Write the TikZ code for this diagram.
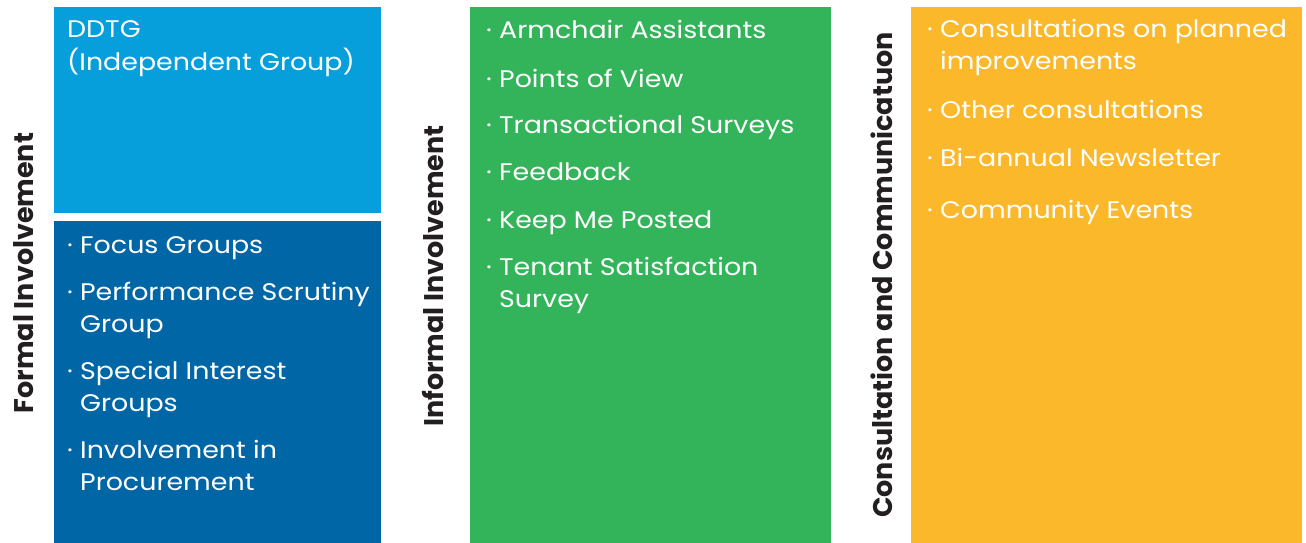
\documentclass[tikz,border=0pt]{standalone}
\usepackage{fontspec}
\setmainfont{Poppins}
\newfontfamily\bodyfont[FakeStretch=1.12]{Poppins}
\definecolor{lblue}{HTML}{069FDB}
\definecolor{dblue}{HTML}{0066A6}
\definecolor{cgreen}{HTML}{34B45A}
\definecolor{cyellow}{HTML}{FBB82A}
\definecolor{labelc}{HTML}{231F20}
\newcommand\itemtext[1]{\makebox[13pt][l]{·}\begin{tabular}[t]{@{}l@{}}#1\end{tabular}}
\begin{document}
\begin{tikzpicture}[x=1pt,y=-1pt,
  panel/.style={draw=none,inner sep=0pt,outer sep=0pt,anchor=north west},
  itm/.style={anchor=base west,inner sep=0pt,text=white,font=\bodyfont\fontsize{24}{32}\selectfont},
  side/.style={anchor=base,rotate=90,inner sep=0pt,text=labelc,font=\fontsize{27}{30}\selectfont\bfseries}]
\useasboundingbox (0,0) rectangle (1306,543);
% panels
\node[panel,fill=lblue,minimum width=327pt,minimum height=206pt] (ddtg) at (54,7) {};
\node[panel,fill=dblue,minimum width=327pt,minimum height=322pt] (formal) at (54,221) {};
\node[panel,fill=cgreen,minimum width=361pt,minimum height=536pt] (informal) at (470,7) {};
\node[panel,fill=cyellow,minimum width=391pt,minimum height=536pt] (consult) at (911,7) {};
% side labels
\node[side] (lf) at (33,273) {Formal Involvement};
\node[side] (li) at (443,276) {Informal Involvement};
\node[side] (lc) at (892,275) {Consultation and Communicatuon};
% DDTG
\node[itm] (t0) at (67,38) {\begin{tabular}[t]{@{}l@{}}DDTG\\(Independent Group)\end{tabular}};
% formal
\node[itm] (f1) at (67,253) {\itemtext{Focus Groups}};
\node[itm] (f2) at (67,300) {\itemtext{Performance Scrutiny\\Group}};
\node[itm] (f3) at (67,379) {\itemtext{Special Interest\\Groups}};
\node[itm] (f4) at (67,458) {\itemtext{Involvement in\\Procurement}};
% informal
\node[itm] (i1) at (486,39) {\itemtext{Armchair Assistants}};
\node[itm] (i2) at (486,87) {\itemtext{Points of View}};
\node[itm] (i3) at (486,133) {\itemtext{Transactional Surveys}};
\node[itm] (i4) at (486,180) {\itemtext{Feedback}};
\node[itm] (i5) at (486,228) {\itemtext{Keep Me Posted}};
\node[itm] (i6) at (486,275) {\itemtext{Tenant Satisfaction\\Survey}};
% consultation
\node[itm] (c1) at (927,38) {\itemtext{Consultations on planned\\improvements}};
\node[itm] (c2) at (927,118) {\itemtext{Other consultations}};
\node[itm] (c3) at (927,166) {\itemtext{Bi-annual Newsletter}};
\node[itm] (c4) at (927,218) {\itemtext{Community Events}};
\end{tikzpicture}
\end{document}
